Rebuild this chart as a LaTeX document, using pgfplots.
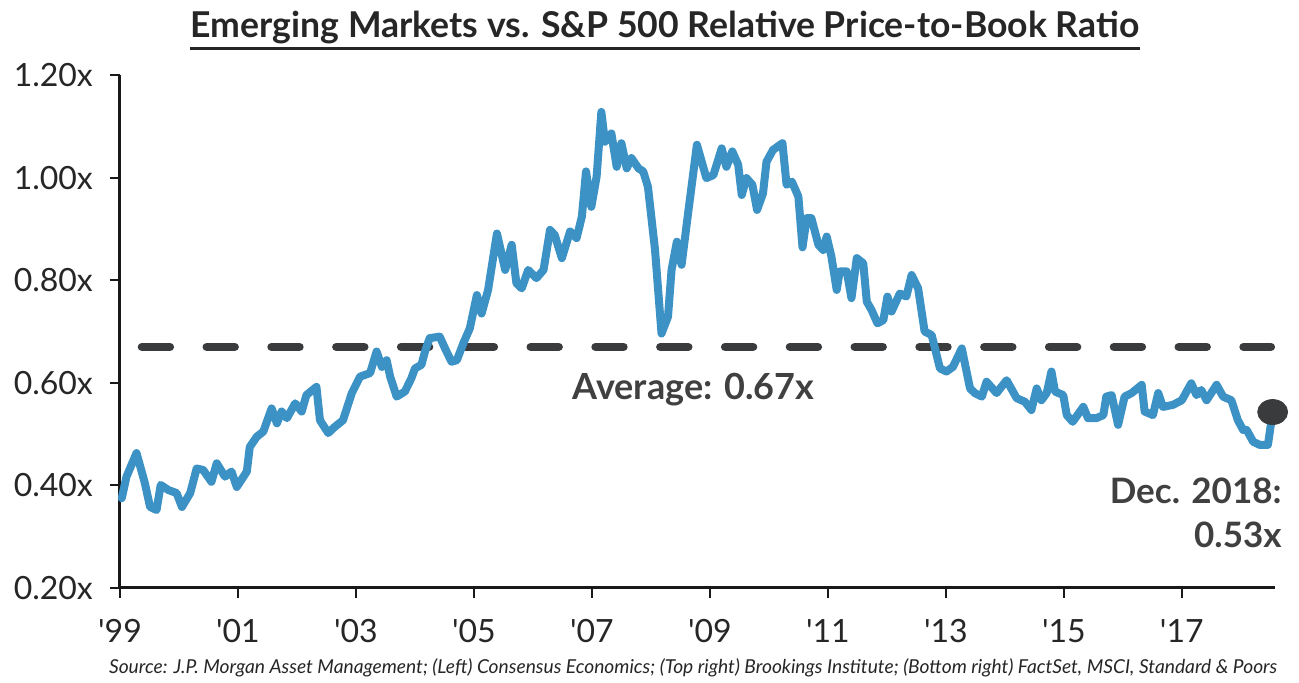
\documentclass[border=0pt]{standalone}
\usepackage{fontspec}
\setmainfont{Lato}
\newfontfamily\tickfont{Lato}[Ligatures=TeXOff]
\usepackage{pgfplots}
\pgfplotsset{compat=1.18}
\definecolor{emblue}{HTML}{3C91C5}
\definecolor{avggray}{HTML}{3A3B3D}
\definecolor{txt}{HTML}{262626}
\definecolor{anno}{HTML}{404040}
\begin{document}
\begin{tikzpicture}[x=1pt,y=1pt]
\path[use as bounding box] (-60,-47.5) rectangle (589.5,294);
\begin{axis}[
  at={(0,0)}, anchor=south west,
  scale only axis, width=577.5pt, height=256.5pt,
  xmin=1999, xmax=2018.58, ymin=0.2, ymax=1.2,
  axis lines*=left,
  axis line style={line width=1.5pt, color=black!90},
  tick style={line width=1pt, color=black!90},
  tick align=outside, major tick length=5pt,
  xtick={1999,2001,2003,2005,2007,2009,2011,2013,2015,2017},
  xticklabels={'99,'01,'03,'05,'07,'09,'11,'13,'15,'17},
  ytick={0.2,0.4,0.6,0.8,1.0,1.2},
  yticklabel={\pgfmathprintnumber[fixed,fixed zerofill,precision=2]{\tick}x},
  /pgf/number format/assume math mode=true,
  ticklabel style={font=\tickfont\fontsize{16}{19}\selectfont, text=txt},
  xticklabel style={yshift=-7pt},
  yticklabel style={xshift=-5pt},
  clip=false,
]
\addplot[avggray, line width=4.2pt, line cap=round, dash pattern=on 14pt off 18.4pt, dash phase=21.45pt] coordinates {(1999,0.67) (2018.51,0.67)};
\addplot[emblue, line width=4pt, line join=round, line cap=round] table {
x y
1999.03 0.375
1999.11 0.417
1999.28 0.463
1999.42 0.405
1999.51 0.358
1999.62 0.352
1999.69 0.401
1999.82 0.391
1999.96 0.385
2000.05 0.358
2000.19 0.385
2000.30 0.433
2000.41 0.430
2000.55 0.407
2000.64 0.443
2000.78 0.417
2000.89 0.427
2000.98 0.397
2001.15 0.427
2001.20 0.475
2001.32 0.495
2001.43 0.505
2001.57 0.550
2001.66 0.521
2001.74 0.544
2001.83 0.531
2001.97 0.560
2002.08 0.544
2002.16 0.576
2002.33 0.592
2002.39 0.527
2002.53 0.502
2002.64 0.514
2002.78 0.527
2002.93 0.580
2003.07 0.612
2003.24 0.619
2003.35 0.661
2003.44 0.631
2003.52 0.644
2003.58 0.612
2003.69 0.573
2003.83 0.583
2003.94 0.609
2004.00 0.628
2004.11 0.635
2004.17 0.661
2004.25 0.687
2004.42 0.690
2004.51 0.667
2004.62 0.641
2004.71 0.644
2004.82 0.677
2004.93 0.706
2005.05 0.771
2005.13 0.735
2005.24 0.781
2005.39 0.891
2005.53 0.820
2005.64 0.869
2005.72 0.794
2005.81 0.784
2005.92 0.820
2006.06 0.804
2006.18 0.820
2006.29 0.898
2006.37 0.888
2006.49 0.843
2006.63 0.895
2006.74 0.882
2006.83 0.924
2006.90 1.012
2006.99 0.943
2007.08 1.002
2007.16 1.128
2007.22 1.070
2007.33 1.086
2007.42 1.021
2007.50 1.067
2007.59 1.018
2007.67 1.038
2007.79 1.018
2007.87 1.012
2007.95 0.982
2008.07 0.859
2008.18 0.696
2008.29 0.729
2008.35 0.820
2008.44 0.875
2008.52 0.830
2008.63 0.930
2008.78 1.064
2008.94 0.999
2009.06 1.005
2009.20 1.057
2009.28 1.021
2009.38 1.051
2009.48 1.025
2009.54 0.966
2009.62 0.999
2009.72 0.986
2009.80 0.937
2009.90 0.969
2009.96 1.031
2010.07 1.054
2010.23 1.067
2010.30 0.986
2010.39 0.992
2010.50 0.963
2010.57 0.864
2010.64 0.921
2010.72 0.921
2010.84 0.869
2010.92 0.859
2010.98 0.885
2011.06 0.846
2011.15 0.781
2011.20 0.817
2011.32 0.817
2011.40 0.765
2011.49 0.843
2011.60 0.833
2011.66 0.758
2011.74 0.742
2011.84 0.716
2011.94 0.722
2012.01 0.768
2012.08 0.739
2012.22 0.774
2012.33 0.768
2012.42 0.810
2012.53 0.784
2012.64 0.700
2012.76 0.693
2012.90 0.628
2013.01 0.622
2013.12 0.631
2013.27 0.667
2013.41 0.589
2013.49 0.580
2013.61 0.573
2013.69 0.602
2013.86 0.580
2014.03 0.605
2014.20 0.570
2014.34 0.563
2014.45 0.547
2014.54 0.589
2014.62 0.566
2014.71 0.580
2014.79 0.622
2014.85 0.583
2014.99 0.576
2015.05 0.537
2015.15 0.524
2015.33 0.553
2015.41 0.531
2015.55 0.531
2015.67 0.537
2015.72 0.573
2015.81 0.576
2015.92 0.518
2016.03 0.573
2016.15 0.580
2016.32 0.596
2016.37 0.544
2016.51 0.537
2016.60 0.580
2016.68 0.553
2016.85 0.557
2017.00 0.566
2017.16 0.599
2017.25 0.576
2017.33 0.586
2017.42 0.566
2017.59 0.596
2017.70 0.573
2017.84 0.566
2017.95 0.527
2018.04 0.508
2018.10 0.508
2018.21 0.485
2018.32 0.479
2018.46 0.479
2018.54 0.543
};
\addplot[only marks, mark=*, mark size=6.25pt, color=avggray, mark options={xscale=1.2}] coordinates {(2018.54,0.543)};
\end{axis}
\node[anchor=base, inner sep=0pt, font=\fontsize{17.8}{21}\selectfont\bfseries, text=txt] (t) at (272.5,275) {Emerging Markets vs. S\&P 500 Relative Price-to-Book Ratio};
\draw[line width=1.5pt, txt] ([yshift=-5.5pt]t.base west) -- ([yshift=-5.5pt]t.base east);
\node[anchor=base, inner sep=0pt, font=\fontsize{18}{21}\selectfont\bfseries, text=anno] at (286.75,94) {Average: 0.67x};
\node[anchor=base east, inner sep=0pt, font=\fontsize{17.5}{20}\selectfont\bfseries, text=anno] at (581,42) {Dec. 2018:};
\node[anchor=base east, inner sep=0pt, font=\fontsize{17.5}{20}\selectfont\bfseries, text=anno] at (581,20) {0.53x};
\node[anchor=base, inner sep=0pt, font=\fontsize{9.6}{11}\selectfont\itshape, text=txt] at (286.5,-43) {Source: J.P. Morgan Asset Management; (Left) Consensus Economics; (Top right) Brookings Institute; (Bottom right) FactSet, MSCI, Standard \& Poors};
\end{tikzpicture}
\end{document}
